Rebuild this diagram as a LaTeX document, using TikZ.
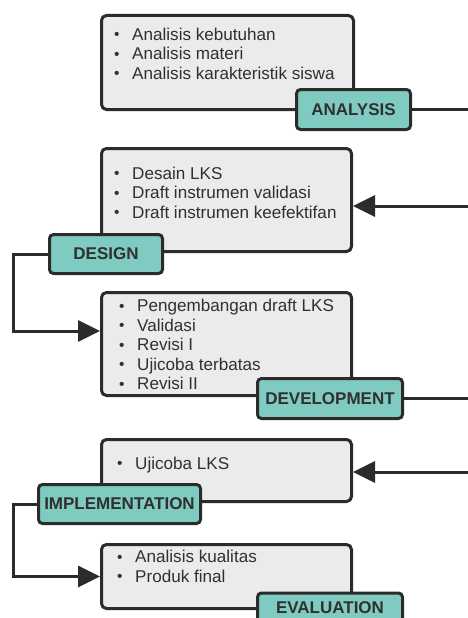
\documentclass[tikz,border=0pt]{standalone}
\usepackage{fontspec}
\setmainfont{Liberation Sans}
\usetikzlibrary{arrows.meta, positioning}

\definecolor{boxgray}{HTML}{EAEBEA}
\definecolor{stageteal}{HTML}{7FCAC1}
\definecolor{linedark}{HTML}{2B2B2B}
\definecolor{textdark}{HTML}{303030}
\newcommand{\bul}{\makebox[18pt][l]{\raisebox{0.5pt}{\scalebox{0.9}{\textbullet}}}}

\tikzset{
	contentbox/.style={draw=linedark, fill=boxgray, line width=3pt, rounded corners=5pt, inner sep=0pt},
	stagebox/.style={draw=linedark, fill=stageteal, line width=3pt, rounded corners=4pt, inner sep=0pt, text=textdark, font=\fontsize{17}{19}\selectfont\bfseries},
	itemtext/.style={anchor=north west, align=left, inner sep=0pt, text=textdark, font=\fontsize{17.1}{19.5}\selectfont},
	wire/.style={draw=linedark, line width=3pt},
	arrowwire/.style={wire, -{Triangle[length=22pt, width=21pt]}},
}

\begin{document}
\begin{tikzpicture}[x=1pt, y=-1pt]
	% Frame:
	\clip (0, 0) rectangle (468, 618);
	% Boxes with the steps:
	\node[contentbox, minimum width=252pt, minimum height=94pt] (analysis box) at (227.5, 62.5) {};
	\node[itemtext] (analysis items) at (114, 27.6) {\bul Analisis kebutuhan\\ \bul Analisis materi\\ \bul Analisis karakteristik siswa};
	\node[contentbox, minimum width=250pt, minimum height=103pt] (design box) at (226.5, 200) {};
	\node[itemtext] (design items) at (114, 166.6) {\bul Desain LKS\\ \bul Draft instrumen validasi\\ \bul Draft instrumen keefektifan};
	\node[contentbox, minimum width=250pt, minimum height=103pt] (development box) at (226.5, 344) {};
	\node[itemtext] (development items) at (119, 299.3) {\bul Pengembangan draft LKS\\ \bul Validasi\\ \bul Revisi I\\ \bul Ujicoba terbatas\\ \bul Revisi II};
	\node[contentbox, minimum width=250pt, minimum height=62pt] (implementation box) at (226.5, 470.5) {};
	\node[itemtext] (implementation items) at (117, 456.6) {\bul Ujicoba LKS};
	\node[contentbox, minimum width=250pt, minimum height=64pt] (evaluation box) at (226.5, 576.5) {};
	\node[itemtext] (evaluation items) at (117, 550.3) {\bul Analisis kualitas\\ \bul Produk final};
	% Stage labels:
	\node[stagebox, minimum width=114pt, minimum height=40pt] (analysis) at (353.5, 109.5) {ANALYSIS};
	\node[stagebox, minimum width=113pt, minimum height=39pt] (design) at (106, 254) {DESIGN};
	\node[stagebox, minimum width=145pt, minimum height=40pt] (development) at (330, 398.5) {DEVELOPMENT};
	\node[stagebox, minimum width=162pt, minimum height=39pt] (implementation) at (119.5, 504) {IMPLEMENTATION};
	\node[stagebox, minimum width=145pt, minimum height=40pt, text depth=11pt] (evaluation) at (330, 613) {EVALUATION};
	% Edge points:
	\coordinate (analysis out) at (468, 109.5);
	\coordinate (design in) at (468, 206);
	\coordinate (development out) at (468, 401);
	\coordinate (implementation in) at (468, 472);
	% Wires and arrows:
	\draw[wire] (analysis.east) -- (analysis out);
	\draw[arrowwire] (design in) -- (design box.east |- design in);
	\draw[arrowwire] (design.west) -- ++(-35, 0) |- ([yshift=13pt]development box.west);
	\draw[wire] (development.east) -- (development.east -| development out);
	\draw[arrowwire] (implementation in) -- (implementation box.east |- implementation in);
	\draw[arrowwire] (implementation.west) -- ++(-24, 0) |- (evaluation box.west);
\end{tikzpicture}
\end{document}
